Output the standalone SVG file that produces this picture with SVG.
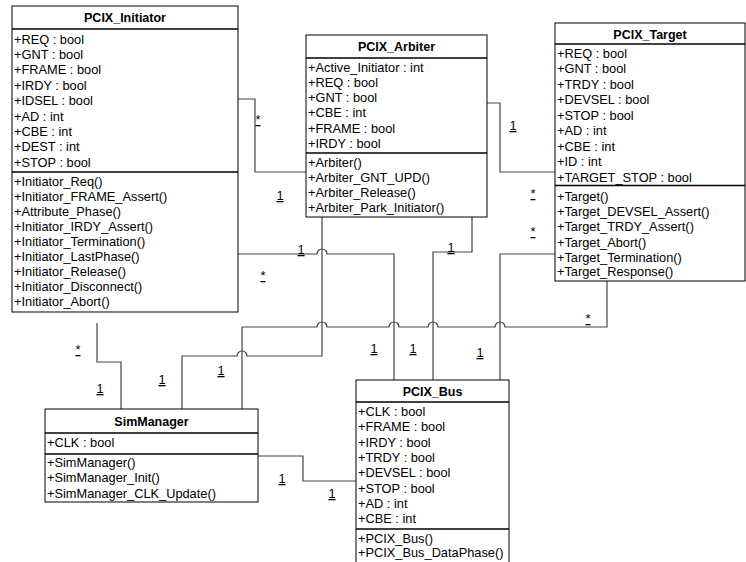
<svg xmlns="http://www.w3.org/2000/svg" width="746" height="562" viewBox="0 0 746 562">
<style>
.box{fill:#fff;stroke:#000;stroke-width:1}
.ln{stroke:#000;stroke-width:1.4;fill:none}
.t{font-family:"Liberation Sans",Arial,sans-serif;font-size:12.8px;fill:#000}
.h{font-family:"Liberation Sans",Arial,sans-serif;font-size:12.5px;font-weight:bold;fill:#000;text-anchor:middle}
.c{stroke:#444;stroke-width:1.2;fill:none}
.m{font-family:"Liberation Sans",Arial,sans-serif;font-size:12.8px;fill:#000;text-anchor:middle;text-decoration:underline}
</style>
<rect width="746" height="562" fill="#fff"/>
<g id="connectors">
<path class="c" d="M238,99 H255 V172 H306"/>
<path class="c" d="M487,103 H500 V172 H555"/>
<path class="c" d="M238,254 H317 A5,5 0 0 1 327,254 H394 V380"/>
<path class="c" d="M322,217 V356 H247 A5,5 0 0 0 237,356 H182 V409"/>
<path class="c" d="M472,217 V252 H433 V380"/>
<path class="c" d="M555,254 H500 V380"/>
<path class="c" d="M607,281 V327 H505 A5,5 0 0 0 495,327 H438 A5,5 0 0 0 428,327 H399 A5,5 0 0 0 389,327 H327 A5,5 0 0 0 317,327 H242 V409"/>
<path class="c" d="M97,323 V362 H121 V409"/>
<path class="c" d="M258,456 H303 V481 H356"/>
<g id="mult">
<text class="m" x="258" y="124">*</text>
<text class="m" x="280" y="200">1</text>
<text class="m" x="513" y="130">1</text>
<text class="m" x="301" y="254">1</text>
<text class="m" x="263" y="280">*</text>
<text class="m" x="451" y="252">1</text>
<text class="m" x="533" y="198">*</text>
<text class="m" x="533" y="236">*</text>
<text class="m" x="588" y="323">*</text>
<text class="m" x="374" y="353">1</text>
<text class="m" x="413" y="353">1</text>
<text class="m" x="480" y="357">1</text>
<text class="m" x="221" y="375">1</text>
<text class="m" x="162" y="384">1</text>
<text class="m" x="78" y="354">*</text>
<text class="m" x="100" y="393">1</text>
<text class="m" x="282" y="483">1</text>
<text class="m" x="332" y="498">1</text>
</g>
</g>
<g id="PCIX_Initiator">
<rect class="box" x="12" y="6" width="226" height="306"/>
<line class="ln" x1="12" y1="29" x2="238" y2="29"/>
<line class="ln" x1="12" y1="172" x2="238" y2="172"/>
<text class="h" x="125" y="22">PCIX_Initiator</text>
<text class="t" x="14" y="43.5">+REQ : bool</text>
<text class="t" x="14" y="58.9">+GNT : bool</text>
<text class="t" x="14" y="74.3">+FRAME : bool</text>
<text class="t" x="14" y="89.7">+IRDY : bool</text>
<text class="t" x="14" y="105.1">+IDSEL : bool</text>
<text class="t" x="14" y="120.5">+AD : int</text>
<text class="t" x="14" y="135.9">+CBE : int</text>
<text class="t" x="14" y="151.3">+DEST : int</text>
<text class="t" x="14" y="166.7">+STOP : bool</text>
<text class="t" x="14" y="185.5">+Initiator_Req()</text>
<text class="t" x="14" y="200.5">+Initiator_FRAME_Assert()</text>
<text class="t" x="14" y="215.5">+Attribute_Phase()</text>
<text class="t" x="14" y="230.5">+Initiator_IRDY_Assert()</text>
<text class="t" x="14" y="245.5">+Initiator_Termination()</text>
<text class="t" x="14" y="260.5">+Initiator_LastPhase()</text>
<text class="t" x="14" y="275.5">+Initiator_Release()</text>
<text class="t" x="14" y="290.5">+Initiator_Disconnect()</text>
<text class="t" x="14" y="305.5">+Initiator_Abort()</text>
</g>
<g id="PCIX_Arbiter">
<rect class="box" x="306" y="35" width="181" height="182"/>
<line class="ln" x1="306" y1="58" x2="487" y2="58"/>
<line class="ln" x1="306" y1="153" x2="487" y2="153"/>
<text class="h" x="396.5" y="51">PCIX_Arbiter</text>
<text class="t" x="308" y="71.5">+Active_Initiator : int</text>
<text class="t" x="308" y="86.8">+REQ : bool</text>
<text class="t" x="308" y="102.1">+GNT : bool</text>
<text class="t" x="308" y="117.4">+CBE : int</text>
<text class="t" x="308" y="132.7">+FRAME : bool</text>
<text class="t" x="308" y="148">+IRDY : bool</text>
<text class="t" x="308" y="166.5">+Arbiter()</text>
<text class="t" x="308" y="181.8">+Arbiter_GNT_UPD()</text>
<text class="t" x="308" y="197.1">+Arbiter_Release()</text>
<text class="t" x="308" y="212.4">+Arbiter_Park_Initiator()</text>
</g>
<g id="PCIX_Target">
<rect class="box" x="555" y="23" width="190" height="258"/>
<line class="ln" x1="555" y1="44" x2="745" y2="44"/>
<line class="ln" x1="555" y1="185.5" x2="745" y2="185.5"/>
<text class="h" x="650" y="38.5">PCIX_Target</text>
<text class="t" x="557" y="57.5">+REQ : bool</text>
<text class="t" x="557" y="73">+GNT : bool</text>
<text class="t" x="557" y="88.5">+TRDY : bool</text>
<text class="t" x="557" y="104">+DEVSEL : bool</text>
<text class="t" x="557" y="119.5">+STOP : bool</text>
<text class="t" x="557" y="135">+AD : int</text>
<text class="t" x="557" y="150.5">+CBE : int</text>
<text class="t" x="557" y="166">+ID : int</text>
<text class="t" x="557" y="181.5">+TARGET_STOP : bool</text>
<text class="t" x="557" y="200.5">+Target()</text>
<text class="t" x="557" y="216">+Target_DEVSEL_Assert()</text>
<text class="t" x="557" y="231.3">+Target_TRDY_Assert()</text>
<text class="t" x="557" y="246.6">+Target_Abort()</text>
<text class="t" x="557" y="261.5">+Target_Termination()</text>
<text class="t" x="557" y="276">+Target_Response()</text>
</g>
<g id="SimManager">
<rect class="box" x="45" y="409" width="213" height="93"/>
<line class="ln" x1="45" y1="433" x2="258" y2="433"/>
<line class="ln" x1="45" y1="454" x2="258" y2="454"/>
<text class="h" x="151.5" y="425.5">SimManager</text>
<text class="t" x="47" y="446.5">+CLK : bool</text>
<text class="t" x="47" y="466.5">+SimManager()</text>
<text class="t" x="47" y="482">+SimManager_Init()</text>
<text class="t" x="47" y="497.5">+SimManager_CLK_Update()</text>
</g>
<g id="PCIX_Bus">
<rect class="box" x="356" y="380" width="153" height="200"/>
<line class="ln" x1="356" y1="402" x2="509" y2="402"/>
<line class="ln" x1="356" y1="529" x2="509" y2="529"/>
<text class="h" x="432.5" y="395.5">PCIX_Bus</text>
<text class="t" x="358" y="416">+CLK : bool</text>
<text class="t" x="358" y="431.3">+FRAME : bool</text>
<text class="t" x="358" y="446.6">+IRDY : bool</text>
<text class="t" x="358" y="461.9">+TRDY : bool</text>
<text class="t" x="358" y="477.2">+DEVSEL : bool</text>
<text class="t" x="358" y="492.5">+STOP : bool</text>
<text class="t" x="358" y="507.8">+AD : int</text>
<text class="t" x="358" y="523.1">+CBE : int</text>
<text class="t" x="358" y="542.5">+PCIX_Bus()</text>
<text class="t" x="358" y="557">+PCIX_Bus_DataPhase()</text>
</g>
</svg>
